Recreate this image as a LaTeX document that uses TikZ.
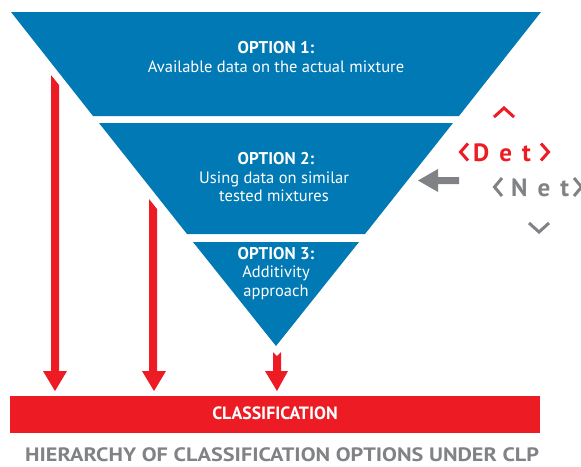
\documentclass[tikz,border=0pt]{standalone}
\usepackage{fontspec}
\setmainfont{PT Sans}
\newfontfamily\capfont{PT Sans}[FakeStretch=1.145]
\newfontfamily\logo{PT Sans}[LetterSpace=40]
\definecolor{cblue}{RGB}{0,121,180}
\definecolor{cred}{RGB}{237,28,36}
\definecolor{cgray}{RGB}{128,130,133}
\begin{document}
\begin{tikzpicture}[x=1pt,y=-1pt,
  band/.style={fill=cblue,draw=none},
  redarrow/.style={fill=cred,draw=none},
  ttl/.style={text=white,font=\bfseries\fontsize{17}{18}\selectfont,anchor=base,inner sep=0},
  txt/.style={text=white,font=\fontsize{16.5}{18}\selectfont,anchor=base,inner sep=0},
  chev/.style={line width=3pt,line cap=butt,line join=miter}]
\useasboundingbox (0,0) rectangle (581,466);
% bands
\path[band] (11,12) -- (541,12) -- (459,116) -- (93,116) -- cycle;
\path[band] (99,123) -- (453,123) -- (365,234) -- (187,234) -- cycle;
\path[band] (193,242) -- (359,242) -- (276,346) -- cycle;
% texts
\node[ttl] (o1a) at (276,53) {OPTION 1:};
\node[txt] (o1b) at (276,72) {Available data on the actual mixture};
\node[ttl] (o2a) at (276,164) {OPTION 2:};
\node[txt] (o2b) at (274,183) {Using data on similar};
\node[txt] (o2c) at (274,201) {tested mixtures};
\node[ttl] (o3a) at (276,259) {OPTION 3:};
\node[txt] (o3b) at (276,277) {Additivity};
\node[txt] (o3c) at (276,296) {approach};
% classification bar
\path[fill=cred] (10,396) rectangle (540,433);
\node[text=white,font=\bfseries\fontsize{17.8}{20}\selectfont,anchor=base,inner sep=0] (cls) at (275,419.5) {CLASSIFICATION};
% red arrows
\path[redarrow] (51,75) -- (59,85) -- (59,371) -- (67,371) -- (55,391) -- (43,371) -- (51,371) -- cycle;
\path[redarrow] (149,199) -- (157,209) -- (157,371) -- (166,371) -- (154,391) -- (142,371) -- (149,371) -- cycle;
\path[redarrow] (273,352) -- (277,356) -- (281,352) -- (281,371) -- (288,371) -- (277,391) -- (265,371) -- (273,371) -- cycle;
% gray arrow
\path[fill=cgray] (418,180.5) -- (438,169) -- (438,177) -- (459,177) -- (459,184) -- (438,184) -- (438,192) -- cycle;
% Det / Net logo
\draw[cred,chev] (494,117) -- (504,108) -- (514,117);
\draw[cred,chev] (468,143.5) -- (460.5,152) -- (468,160.5);
\draw[cred,chev] (541,143.5) -- (548.5,152) -- (541,160.5);
\node[text=cred,font=\logo\bfseries\fontsize{25}{25}\selectfont,anchor=base west,inner sep=0] (det) at (473,161.5) {Det};
\draw[cgray,chev] (502,178) -- (494.5,187) -- (502,196);
\draw[cgray,chev] (574,178) -- (581.5,187) -- (574,196);
\node[text=cgray,font=\logo\bfseries\fontsize{25}{25}\selectfont,anchor=base west,inner sep=0] (net) at (511,196.5) {Net};
\draw[cgray,chev] (529,223) -- (539,232) -- (549,223);
% caption
\node[text=cgray,font=\capfont\bfseries\fontsize{19.4}{22}\selectfont,anchor=base west,inner sep=0] (cap) at (25,461.5) {HIERARCHY OF CLASSIFICATION OPTIONS UNDER CLP};
\end{tikzpicture}
\end{document}
